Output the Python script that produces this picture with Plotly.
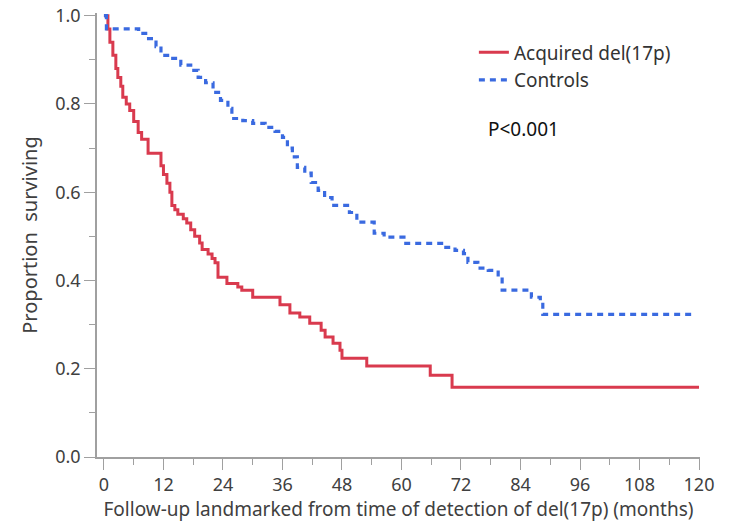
import plotly.graph_objects as go

# Acquired del(17p) Kaplan-Meier steps (months, proportion surviving)
red_t = [0, 0.8, 1.2, 1.8, 2.4, 2.8, 3.4, 3.8, 4.5, 5.2, 6.0, 6.9, 7.6, 8.9, 11.5, 12.0,
         12.7, 13.3, 13.7, 14.3, 14.9, 16.0, 16.7, 17.5, 18.3, 19.3, 19.8, 21.0, 21.8,
         22.4, 23.0, 24.8, 27.0, 27.8, 30.0, 35.5, 37.5, 39.5, 41.5, 43.8, 44.6, 46.2,
         47.6, 48.0, 53.0, 65.8, 70.2, 120]
red_s = [1.0, 0.97, 0.94, 0.91, 0.88, 0.86, 0.84, 0.815, 0.80, 0.785, 0.76, 0.735, 0.72,
         0.688, 0.66, 0.64, 0.62, 0.60, 0.57, 0.56, 0.55, 0.54, 0.53, 0.515, 0.50, 0.485,
         0.47, 0.46, 0.45, 0.44, 0.407, 0.393, 0.385, 0.378, 0.362, 0.345, 0.326, 0.317,
         0.303, 0.287, 0.272, 0.258, 0.242, 0.224, 0.206, 0.185, 0.158, 0.158]

# Controls
blue_t = [0, 0.5, 7.0, 9.0, 10.5, 11.5, 13.5, 15.5, 17.5, 19.0, 20.5, 22.0, 23.5, 25.0,
          25.8, 28.0, 30.0, 32.5, 34.5, 36.0, 37.0, 38.0, 39.0, 40.5, 41.8, 43.2, 44.5,
          46.0, 49.5, 51.0, 54.5, 56.5, 60.5, 68.5, 70.8, 72.5, 73.4, 75.4, 77.5, 79.5,
          80.3, 86.2, 88.0, 88.5, 119]
blue_s = [1.0, 0.97, 0.96, 0.948, 0.93, 0.91, 0.903, 0.888, 0.876, 0.86, 0.848, 0.826,
          0.808, 0.79, 0.767, 0.762, 0.756, 0.747, 0.738, 0.724, 0.70, 0.68, 0.656, 0.643,
          0.622, 0.604, 0.588, 0.57, 0.554, 0.532, 0.507, 0.498, 0.484, 0.475, 0.468, 0.461,
          0.441, 0.428, 0.423, 0.407, 0.378, 0.362, 0.351, 0.323, 0.323]

x_ticks = [0, 12, 24, 36, 48, 60, 72, 84, 96, 108, 120]
y_ticks = [0.0, 0.2, 0.4, 0.6, 0.8, 1.0]

RED = "#d93a4e"
BLUE = "#3a6ae0"
FONT = "Noto Sans"
TXT = "#404040"

fig = go.Figure()
fig.add_trace(go.Scatter(x=red_t, y=red_s, mode="lines", line_shape="hv",
                         name="Acquired del(17p)",
                         line=dict(color=RED, width=3)))
fig.add_trace(go.Scatter(x=blue_t, y=blue_s, mode="lines", line_shape="hv",
                         name="Controls",
                         line=dict(color=BLUE, width=3.2, dash="6px,5px")))

axis_common = dict(showline=True, linecolor="#a0a0a0", linewidth=1.5, ticks="outside",
                   tickcolor="#a0a0a0", ticklen=11, tickwidth=1.3, showgrid=False,
                   zeroline=False, automargin=False,
                   tickfont=dict(family=FONT, size=18, color=TXT))

fig.update_layout(
    width=729, height=526,
    margin=dict(l=97, r=29, t=13, b=69),
    paper_bgcolor="white", plot_bgcolor="white",
    showlegend=True,
    legend=dict(x=0.625, y=0.954, xanchor="left", yanchor="top",
                font=dict(family=FONT, size=19, color="#333333"),
                bgcolor="rgba(0,0,0,0)", itemwidth=30, tracegroupgap=0),
    xaxis=dict(range=[-1.4, 120.2], tickvals=x_ticks,
               minor=dict(dtick=6, tick0=0, ticks="outside", ticklen=6,
                          tickcolor="#a0a0a0"),
               title=dict(text="Follow-up landmarked from time of detection of del(17p) (months)",
                          font=dict(family=FONT, size=19, color=TXT), standoff=2),
               **axis_common),
    yaxis=dict(range=[0, 1.006], tickvals=y_ticks, tickformat=".1f",
               minor=dict(dtick=0.1, tick0=0, ticks="outside", ticklen=6,
                          tickcolor="#a0a0a0"),
               title=dict(text="Proportion  surviving",
                          font=dict(family=FONT, size=20, color=TXT), standoff=12),
               **axis_common),
    annotations=[dict(text="P<0.001", xref="paper", yref="paper", x=0.645, y=0.739,
                      xanchor="left", yanchor="middle", showarrow=False,
                      font=dict(family=FONT, size=19, color="#111111"))],
)

fig.write_html("out.html")
